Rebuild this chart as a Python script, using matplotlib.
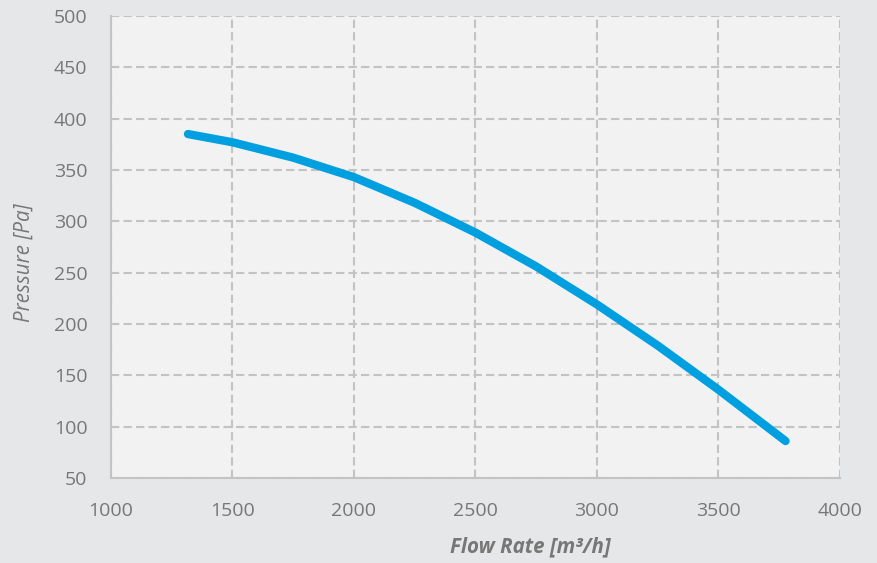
import matplotlib.pyplot as plt

# fan curve
flow = [1317, 1500, 1750, 2000, 2250, 2500, 2750, 3000, 3250, 3500, 3776]
pressure = [385, 377, 362, 343, 318, 289, 256, 219, 179, 136, 86]

x_ticks = [1000, 1500, 2000, 2500, 3000, 3500, 4000]
y_ticks = [50, 100, 150, 200, 250, 300, 350, 400, 450, 500]

plt.rcParams['font.family'] = ['Open Sans', 'DejaVu Sans']

fig = plt.figure(figsize=(8.78, 5.63), dpi=100, facecolor='#e6e7e8')
ax = fig.add_axes([0.1264, 0.151, 0.8303, 0.8206])
ax.set_facecolor('#f2f2f2')

ax.plot(flow, pressure, color='#009fdf', linewidth=6, solid_capstyle='round',
        solid_joinstyle='round', zorder=3)

ax.set_xlim(1000, 4000)
ax.set_ylim(50, 500)
ax.set_xticks(x_ticks)
ax.set_yticks(y_ticks)

ax.grid(True, color='#c3c3c3', linestyle=(0, (4, 2)), linewidth=1.5)
for side in ['top', 'right']:
    ax.spines[side].set_visible(False)
for side in ['left', 'bottom']:
    ax.spines[side].set_color('#c3c3c3')
    ax.spines[side].set_linewidth(1.5)
    ax.spines[side].set_zorder(2)

ax.tick_params(length=0, labelsize=14, labelcolor='#777777')
ax.tick_params(axis='x', pad=17)
ax.tick_params(axis='y', pad=17)

ax.set_xlabel('Flow Rate [m³/h]', fontsize=14.8, color='#777777',
              fontweight='bold', fontstyle='italic')
ax.xaxis.set_label_coords(0.575, -0.127)
ax.set_ylabel('Pressure [Pa]', fontsize=14.8, color='#777777',
              fontstyle='italic')
ax.yaxis.set_label_coords(-0.104, 0.466)

fig.savefig('out.png', dpi=100, facecolor=fig.get_facecolor())
